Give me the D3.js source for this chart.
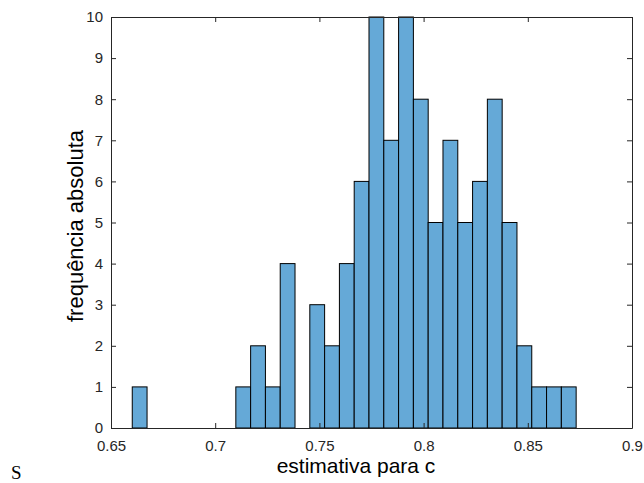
<!DOCTYPE html>
<html>
<head>
<meta charset="utf-8">
<script src="https://cdn.jsdelivr.net/npm/d3@7"></script>
<style>
  body { margin: 0; background: #fff; }
  text { font-family: "Liberation Sans", Arial, sans-serif; }
</style>
</head>
<body>
<svg id="hist" width="644" height="483"></svg>
<script>
// histogram counts per bin (30 bins)
const counts = [1, 0, 0, 0, 0, 0, 0, 1, 2, 1, 4, 0, 3, 2, 4, 6, 10, 7, 10, 8, 5, 7, 5, 6, 8, 5, 2, 1, 1, 1];
const binStart = 0.6602;
const binWidth = 0.0071;
const xTicks = [0.65, 0.7, 0.75, 0.8, 0.85, 0.9];
const yTicks = [0, 1, 2, 3, 4, 5, 6, 7, 8, 9, 10];

const svg = d3.select("svg#hist");
const margin = { top: 17, right: 12, bottom: 55, left: 111 };
const chartWidth = 644 - margin.left - margin.right;
const chartHeight = 483 - margin.top - margin.bottom;
const axisColor = "#262626";

const x = d3.scaleLinear([0.65, 0.9], [0, chartWidth]);
const y = d3.scaleLinear([0, 10], [chartHeight, 0]);

const bins = counts.map((c, i) => ({
	x0: binStart + i * binWidth,
	x1: binStart + (i + 1) * binWidth,
	count: c
}));

const chartArea = svg
	.append("g")
	.attr("transform", `translate(${margin.left},${margin.top})`);

// bars
chartArea
	.selectAll("rect.bar")
	.data(bins)
	.join("rect")
	.attr("class", "bar")
	.attr("x", (d) => x(d.x0))
	.attr("width", (d) => x(d.x1) - x(d.x0))
	.attr("y", (d) => y(d.count))
	.attr("height", (d) => y(0) - y(d.count))
	.attr("fill", "#65a9d7")
	.attr("stroke", "#000")
	.attr("stroke-width", 1);

// axes (MATLAB box style, ticks inside)
const tickLen = 5;
const styleAxis = (g) => {
	g.select(".domain").attr("stroke", axisColor);
	g.selectAll(".tick line").attr("stroke", axisColor);
	g.selectAll(".tick text")
		.attr("fill", axisColor)
		.style("font-size", "15px");
};

chartArea
	.append("g")
	.attr("transform", `translate(0,${chartHeight})`)
	.call(d3.axisBottom(x).tickValues(xTicks).tickFormat(d3.format("")).tickSizeInner(-tickLen).tickSizeOuter(0).tickPadding(12))
	.call(styleAxis);

chartArea
	.append("g")
	.call(d3.axisTop(x).tickValues(xTicks).tickFormat("").tickSizeInner(-tickLen).tickSizeOuter(0))
	.call(styleAxis);

chartArea
	.append("g")
	.call(d3.axisLeft(y).tickValues(yTicks).tickSizeInner(-tickLen).tickSizeOuter(0).tickPadding(8))
	.call(styleAxis);

chartArea
	.append("g")
	.attr("transform", `translate(${chartWidth},0)`)
	.call(d3.axisRight(y).tickValues(yTicks).tickFormat("").tickSizeInner(-tickLen).tickSizeOuter(0))
	.call(styleAxis);

// axis labels
svg
	.append("text")
	.attr("x", 356)
	.attr("y", 473)
	.attr("text-anchor", "middle")
	.attr("fill", "#000")
	.style("font-size", "21px")
	.text("estimativa para c");

svg
	.append("text")
	.attr("transform", "translate(83,226) rotate(-90)")
	.attr("text-anchor", "middle")
	.attr("fill", "#000")
	.style("font-size", "22px")
	.text("frequência absoluta");

svg
	.append("text")
	.attr("x", 11)
	.attr("y", 479)
	.attr("fill", "#000")
	.style("font-family", "'Liberation Serif', serif")
	.style("font-size", "19px")
	.text("S");
</script>
</body>
</html>
